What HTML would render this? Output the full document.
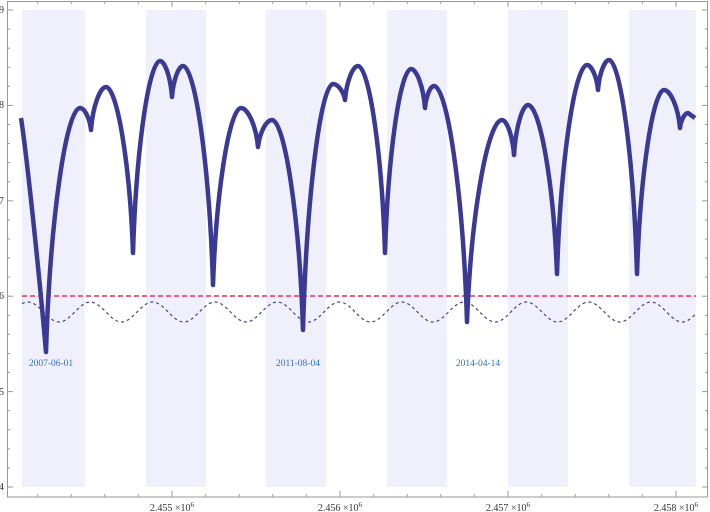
<!DOCTYPE html>
<html><head><meta charset="utf-8"><style>
html,body{margin:0;padding:0;background:#fff;}
svg{display:block;font-family:"Liberation Serif",serif;}
</style></head><body>
<svg id="s" width="710" height="512" viewBox="0 0 710 512" xmlns="http://www.w3.org/2000/svg">
<g fill="#f0f0fc">
<rect x="22" y="10" width="63" height="477"/>
<rect x="146" y="10" width="60" height="477"/>
<rect x="266" y="10" width="60" height="477"/>
<rect x="387" y="10" width="60" height="477"/>
<rect x="508" y="10" width="60" height="477"/>
<rect x="629" y="10" width="67" height="477"/>
</g>
<rect x="7.5" y="1.5" width="700" height="495.5" fill="none" stroke="#999" stroke-width="1"/>
<g id="ticks" stroke="#999" stroke-width="1"></g>
<g font-size="10" fill="#333">
<text x="4" y="13" text-anchor="end">9</text>
<text x="4" y="108" text-anchor="end">8</text>
<text x="4" y="204" text-anchor="end">7</text>
<text x="4" y="299" text-anchor="end">6</text>
<text x="4" y="395" text-anchor="end">5</text>
<text x="4" y="490" text-anchor="end">4</text>
<text x="172" y="511" text-anchor="middle">2.455 ×10<tspan dy="-4" font-size="7">6</tspan></text>
<text x="340" y="511" text-anchor="middle">2.456 ×10<tspan dy="-4" font-size="7">6</tspan></text>
<text x="508" y="511" text-anchor="middle">2.457 ×10<tspan dy="-4" font-size="7">6</tspan></text>
<text x="676" y="511" text-anchor="middle">2.458 ×10<tspan dy="-4" font-size="7">6</tspan></text>
</g>
<line x1="22" y1="296" x2="696" y2="296" stroke="#f06080" stroke-width="2" stroke-dasharray="5,3"/>
<path id="dash" fill="none" stroke="#44448a" stroke-width="1.2" stroke-dasharray="3,3"/>
<path id="main" fill="none" stroke="#3a3a94" stroke-width="4.5" stroke-linejoin="round"/>
<g font-size="9.5" fill="#2a72c0" text-anchor="middle">
<text x="51" y="366">2007-06-01</text>
<text x="298" y="366">2011-08-04</text>
<text x="478" y="366">2014-04-14</text>
</g>
</svg>
<script>
var t=document.getElementById('ticks'),h='';
for(var x=172-168*1;x<=708;x+=33.6){if(x<8)continue;var big=Math.abs(((x-172)/168)-Math.round((x-172)/168))<0.01;var l=big?6:3;
h+='<line x1="'+x+'" y1="497" x2="'+x+'" y2="'+(497-l)+'"/><line x1="'+x+'" y1="1" x2="'+x+'" y2="'+(1+l)+'"/>';}
for(var v=4;v<=9.01;v+=0.2){var y=487-(v-4)*95.4;var big=Math.abs(v-Math.round(v))<0.01;var l=big?6:3;
h+='<line x1="7" y1="'+y+'" x2="'+(7+l)+'" y2="'+y+'"/><line x1="708" y1="'+y+'" x2="'+(708-l)+'" y2="'+y+'"/>';}
t.innerHTML=h;
var d='';for(var x=22;x<=696;x+=1){var y=312-10*Math.cos(2*Math.PI*(x-28)/62.3);d+=(x==22?'M':'L')+x+','+y.toFixed(1);}
document.getElementById('dash').setAttribute('d',d);
var c=[[21,118],[46,352],[91,130],[133,253],[172,97],[213,285],[258,147],[303,330],[345,100],[385,253],[425,108],[467,322],[514,155],[557,274],[598,90],[637,274],[680,128],[695,118]];
var p=[null,[80,108],[106,87],[160,61],[183,66],[241,108],[272,120],[333,84],[358,66],[411,69],[434,86],[502,120],[528,105],[587,65],[609,60],[664,90],[688,113]];
function f(n){return n.toFixed(1);}
var m='M21,118 C26,150 38,260 46,352';
for(var i=1;i<c.length-1;i++){var a=c[i],pk=p[i],b=c[i+1];var dx=pk[0]-a[0];
m+=' C'+f(a[0]+0.12*dx)+','+f(a[1]-0.55*(a[1]-pk[1]))+' '+f(pk[0]-0.4*dx)+','+pk[1]+' '+pk[0]+','+pk[1];
var dx2=b[0]-pk[0];
if(i<c.length-2)m+=' C'+f(pk[0]+0.4*dx2)+','+pk[1]+' '+f(b[0]-0.12*dx2)+','+f(b[1]-0.55*(b[1]-pk[1]))+' '+b[0]+','+b[1];
else m+=' L'+b[0]+','+b[1];}
document.getElementById('main').setAttribute('d',m);
</script>
</body></html>
